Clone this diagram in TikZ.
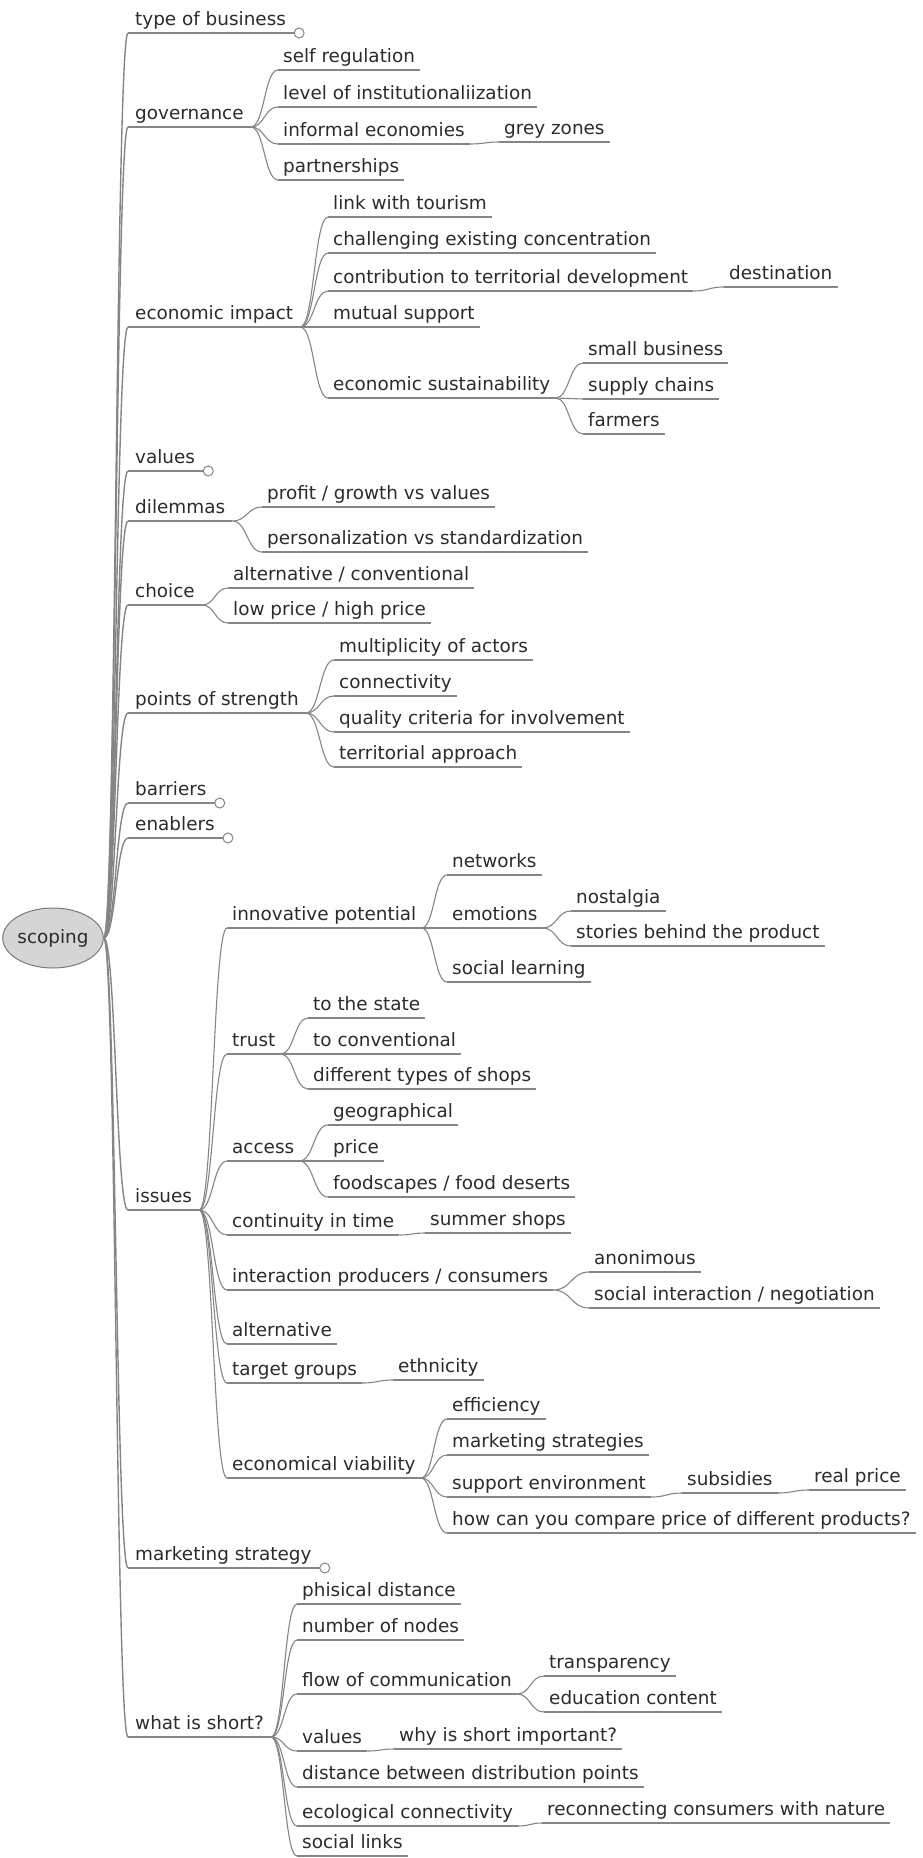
\documentclass[tikz,border=0pt]{standalone}
\usepackage{fontspec}
\newfontfamily\mmfont{DejaVu Sans}
\usetikzlibrary{calc,shapes.geometric}
\definecolor{txt}{HTML}{2B2B2B}
\definecolor{ln}{HTML}{858585}
\definecolor{rootfill}{HTML}{D5D5D5}
\tikzset{
  uline/.style={draw=ln, line width=1.1pt},
  edgeline/.style={draw=ln, line width=1.1pt},
  rootedge/.style={draw=ln, line width=1.4pt},
  topic/.style={anchor=south west, font=\mmfont\fontsize{18.4}{22}\selectfont, text=txt,
    inner xsep=5pt, inner ysep=2pt, text height=14pt, text depth=5pt,
    append after command={(\tikzlastnode.south west) edge[uline] (\tikzlastnode.south east)}},
  topone/.style={topic, inner xsep=7pt},
  fold/.style={circle, draw=ln, fill=white, line width=1pt, minimum size=10pt, inner sep=0pt},
  rootnode/.style={ellipse, draw=ln!90!black, fill=rootfill, line width=1pt,
    minimum width=93pt, minimum height=60pt, inner sep=0pt,
    font=\mmfont\fontsize{18.4}{22}\selectfont, text=txt}
}
\newcommand\lk[2]{\draw[edgeline] let \p1=(#1.south east), \p2=(#2.south west) in
  (\p1) .. controls ({0.5*\x1+0.5*\x2},\y1) and ({0.5*\x1+0.5*\x2},\y2) .. (\p2);}
\newcommand\rk[1]{\draw[rootedge] let \p1=(root.east), \p2=(#1.south west) in
  (\p1) .. controls ({0.5*\x1+0.5*\x2},\y1) and ({0.5*\x1+0.5*\x2},\y2) .. (\p2);}
\newcommand\fd[1]{\node[fold] (#1f) at ([xshift=6pt]#1.south east) {};
  \draw[uline] (#1.south east) -- (#1f.west);}
\begin{document}
\begin{tikzpicture}[x=1pt,y=-1pt]
\useasboundingbox (0,0) rectangle (922,1858);
\node[rootnode] (root) at (53,938) {scoping};
% level 1
\node[topone] (tob) at (128,33) {type of business};
\node[topone] (gov) at (128,127) {governance};
\node[topone] (eco) at (128,327) {economic impact};
\node[topone] (val) at (128,471) {values};
\node[topone] (dil) at (128,521) {dilemmas};
\node[topone] (cho) at (128,605) {choice};
\node[topone] (pos) at (128,713) {points of strength};
\node[topone] (bar) at (128,803) {barriers};
\node[topone] (ena) at (128,838) {enablers};
\node[topone] (iss) at (128,1210) {issues};
\node[topone] (mks) at (128,1568) {marketing strategy};
\node[topone] (wis) at (128,1737) {what is short?};
\foreach \nd in {tob,gov,eco,val,dil,cho,pos,bar,ena,iss,mks,wis}{\rk{\nd}}
\fd{tob}\fd{val}\fd{bar}\fd{ena}\fd{mks}
% governance
\node[topic] (g1) at (278,70) {self regulation};
\node[topic] (g2) at (278,107) {level of institutionaliization};
\node[topic] (g3) at (278,144) {informal economies};
\node[topic] (g4) at (278,180) {partnerships};
\node[topic] (g3a) at (499,142) {grey zones};
\foreach \nd in {g1,g2,g3,g4}{\lk{gov}{\nd}}
\lk{g3}{g3a}
% economic impact
\node[topic] (e1) at (328,217) {link with tourism};
\node[topic] (e2) at (328,253) {challenging existing concentration};
\node[topic] (e3) at (328,291) {contribution to territorial development};
\node[topic] (e4) at (328,327) {mutual support};
\node[topic] (e5) at (328,398) {economic sustainability};
\node[topic] (e3a) at (724,287) {destination};
\node[topic] (e5a) at (583,363) {small business};
\node[topic] (e5b) at (583,399) {supply chains};
\node[topic] (e5c) at (583,434) {farmers};
\foreach \nd in {e1,e2,e3,e4,e5}{\lk{eco}{\nd}}
\lk{e3}{e3a}
\foreach \nd in {e5a,e5b,e5c}{\lk{e5}{\nd}}
% dilemmas
\node[topic] (d1) at (262,507) {profit / growth vs values};
\node[topic] (d2) at (262,552) {personalization vs standardization};
\lk{dil}{d1}\lk{dil}{d2}
% choice
\node[topic] (c1) at (228,588) {alternative / conventional};
\node[topic] (c2) at (228,623) {low price / high price};
\lk{cho}{c1}\lk{cho}{c2}
% points of strength
\node[topic] (p1) at (334,660) {multiplicity of actors};
\node[topic] (p2) at (334,696) {connectivity};
\node[topic] (p3) at (334,732) {quality criteria for involvement};
\node[topic] (p4) at (334,767) {territorial approach};
\foreach \nd in {p1,p2,p3,p4}{\lk{pos}{\nd}}
% issues
\node[topic] (i1) at (227,928) {innovative potential};
\node[topic] (i2) at (227,1054) {trust};
\node[topic] (i3) at (227,1161) {access};
\node[topic] (i4) at (227,1235) {continuity in time};
\node[topic] (i5) at (227,1290) {interaction producers / consumers};
\node[topic] (i6) at (227,1344) {alternative};
\node[topic] (i7) at (227,1383) {target groups};
\node[topic] (i8) at (227,1478) {economical viability};
\foreach \nd in {i1,i2,i3,i4,i5,i6,i7,i8}{\lk{iss}{\nd}}
\node[topic] (i1a) at (447,875) {networks};
\node[topic] (i1b) at (447,928) {emotions};
\node[topic] (i1c) at (447,982) {social learning};
\foreach \nd in {i1a,i1b,i1c}{\lk{i1}{\nd}}
\node[topic] (i1b1) at (571,911) {nostalgia};
\node[topic] (i1b2) at (571,946) {stories behind the product};
\lk{i1b}{i1b1}\lk{i1b}{i1b2}
\node[topic] (i2a) at (308,1018) {to the state};
\node[topic] (i2b) at (308,1054) {to conventional};
\node[topic] (i2c) at (308,1089) {different types of shops};
\foreach \nd in {i2a,i2b,i2c}{\lk{i2}{\nd}}
\node[topic] (i3a) at (328,1125) {geographical};
\node[topic] (i3b) at (328,1161) {price};
\node[topic] (i3c) at (328,1197) {foodscapes / food deserts};
\foreach \nd in {i3a,i3b,i3c}{\lk{i3}{\nd}}
\node[topic] (i4a) at (425,1233) {summer shops};
\lk{i4}{i4a}
\node[topic] (i5a) at (589,1272) {anonimous};
\node[topic] (i5b) at (589,1308) {social interaction / negotiation};
\lk{i5}{i5a}\lk{i5}{i5b}
\node[topic] (i7a) at (393,1380) {ethnicity};
\lk{i7}{i7a}
\node[topic] (i8a) at (447,1419) {efficiency};
\node[topic] (i8b) at (447,1455) {marketing strategies};
\node[topic] (i8c) at (447,1497) {support environment};
\node[topic] (i8d) at (447,1533) {how can you compare price of different products?};
\foreach \nd in {i8a,i8b,i8c,i8d}{\lk{i8}{\nd}}
\node[topic] (i8c1) at (682,1493) {subsidies};
\node[topic] (i8c2) at (809,1490) {real price};
\lk{i8c}{i8c1}\lk{i8c1}{i8c2}
% what is short
\node[topic] (w1) at (297,1604) {phisical distance};
\node[topic] (w2) at (297,1640) {number of nodes};
\node[topic] (w3) at (297,1694) {flow of communication};
\node[topic] (w4) at (297,1751) {values};
\node[topic] (w5) at (297,1787) {distance between distribution points};
\node[topic] (w6) at (297,1826) {ecological connectivity};
\node[topic] (w7) at (297,1856) {social links};
\foreach \nd in {w1,w2,w3,w4,w5,w6,w7}{\lk{wis}{\nd}}
\node[topic] (w3a) at (544,1676) {transparency};
\node[topic] (w3b) at (544,1712) {education content};
\lk{w3}{w3a}\lk{w3}{w3b}
\node[topic] (w4a) at (394,1749) {why is short important?};
\lk{w4}{w4a}
\node[topic] (w6a) at (542,1823) {reconnecting consumers with nature};
\lk{w6}{w6a}
\end{tikzpicture}
\end{document}
